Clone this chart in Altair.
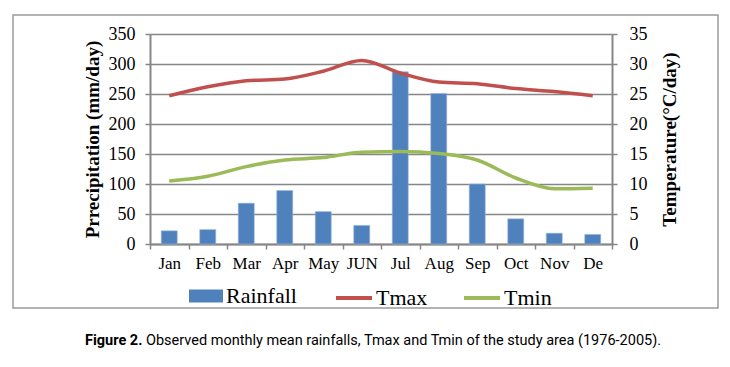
import altair as alt
import pandas as pd

months = ["Jan", "Feb", "Mar", "Apr", "May", "JUN", "Jul", "Aug", "Sep", "Oct", "Nov", "De"]
rainfall = [22, 24, 68, 89, 54, 31, 287, 251, 100, 42, 18, 16]
tmax = [24.7, 26.2, 27.2, 27.5, 28.8, 30.6, 28.5, 27.0, 26.7, 25.9, 25.4, 24.7]
tmin = [10.5, 11.3, 12.9, 14.0, 14.4, 15.3, 15.4, 15.1, 14.0, 11.0, 9.2, 9.3]
precip_ticks = [0, 50, 100, 150, 200, 250, 300, 350]
temp_ticks = [0, 5, 10, 15, 20, 25, 30, 35]
caption_bold = "Figure 2."
caption_rest = "Observed monthly mean rainfalls, Tmax and Tmin of the study area (1976-2005)."

df = pd.DataFrame({"month": months, "Rainfall": rainfall, "Tmax": tmax, "Tmin": tmin})

SERIF = "Liberation Serif"
SANS = "Roboto"
GRAY = "#868686"

x_axis = alt.Axis(title=None, labelAngle=0, labelFont=SERIF, labelFontSize=17,
                  labelColor="black", tickBand="extent", tickSize=5, tickColor=GRAY,
                  tickWidth=1.5, domainColor=GRAY, domainWidth=2, labelPadding=6, grid=False)

x_enc = alt.X("month:N", sort=months, axis=x_axis,
              scale=alt.Scale(paddingInner=0, paddingOuter=0))

bars = alt.Chart(df).mark_bar(size=16, stroke="#9db8dc", strokeWidth=0.6).encode(
    x=x_enc,
    y=alt.Y("Rainfall:Q", scale=alt.Scale(domain=[0, 350]),
            axis=alt.Axis(values=precip_ticks, title="Prrecipitation (mm/day)",
                          titleFont=SERIF, titleFontSize=19, titleFontWeight="bold",
                          titleColor="black", titlePadding=6,
                          labelFont=SERIF, labelFontSize=18, labelColor="black",
                          labelPadding=10, tickSize=5, tickColor=GRAY, tickWidth=1.5,
                          domainColor=GRAY, domainWidth=2,
                          grid=True, gridColor=GRAY, gridWidth=1.3)),
    color=alt.Color("s:N", scale=alt.Scale(domain=["Rainfall"], range=["#4F81BD"]),
                    legend=alt.Legend(orient="none", legendX=39, legendY=245,
                                      direction="horizontal", title=None,
                                      symbolType="M-1,-0.38H1V0.38H-1Z", symbolSize=1156,
                                      symbolStrokeWidth=0, symbolOpacity=1,
                                      labelFont=SERIF, labelFontSize=22,
                                      labelColor="black", labelOffset=3, padding=0)),
).transform_calculate(s="'Rainfall'")

lines = alt.Chart(df).transform_fold(["Tmax", "Tmin"], as_=["series", "temp"]).mark_line(
    strokeWidth=3.5, interpolate="monotone"
).encode(
    x=x_enc,
    y=alt.Y("temp:Q", scale=alt.Scale(domain=[0, 35]),
            axis=alt.Axis(orient="right", values=temp_ticks, title="Temperature(°C/day)",
                          titleFont=SERIF, titleFontSize=19, titleFontWeight="bold",
                          titleColor="black", titleAngle=270, titleBaseline="top",
                          titlePadding=13,
                          labelFont=SERIF, labelFontSize=18, labelColor="black",
                          labelPadding=12, tickSize=5, tickColor=GRAY, tickWidth=1.5,
                          domainColor=GRAY, domainWidth=2, grid=False)),
    stroke=alt.Stroke("series:N",
                      scale=alt.Scale(domain=["Tmax", "Tmin"], range=["#C0504D", "#9BBB59"]),
                      legend=alt.Legend(orient="none", legendX=184, legendY=244,
                                        direction="horizontal", title=None,
                                        symbolType="stroke", symbolSize=1296,
                                        symbolStrokeWidth=4, columnPadding=28,
                                        labelFont=SERIF, labelFontSize=22,
                                        labelColor="black", labelOffset=2, padding=0)),
)

one = pd.DataFrame({"t": [caption_bold], "u": [caption_rest]})

border = alt.Chart(one).mark_rect(fill=None, stroke="#9a9a9a", strokeWidth=1.5).encode(
    x=alt.value(-137), x2=alt.value(568), y=alt.value(-19), y2=alt.value(274)
)

cap1 = alt.Chart(one).mark_text(align="left", baseline="alphabetic", font=SANS,
                                fontSize=14.5, fontWeight="bold", color="black").encode(
    text="t:N", x=alt.value(-65), y=alt.value(311))
cap2 = alt.Chart(one).mark_text(align="left", baseline="alphabetic", font=SANS,
                                fontSize=14.5, color="black").encode(
    text="u:N", x=alt.value(-4), y=alt.value(311))

chart = alt.layer(bars, lines, border, cap1, cap2).resolve_scale(
    y="independent", color="independent"
).properties(
    width=462, height=210,
    autosize=alt.AutoSizeParams(type="none"),
    padding={"left": 142, "top": 26, "right": 110, "bottom": 115},
).configure_view(stroke=None).configure(background="white")

chart.save("out.html", embed_options={"renderer": "svg", "actions": False})
